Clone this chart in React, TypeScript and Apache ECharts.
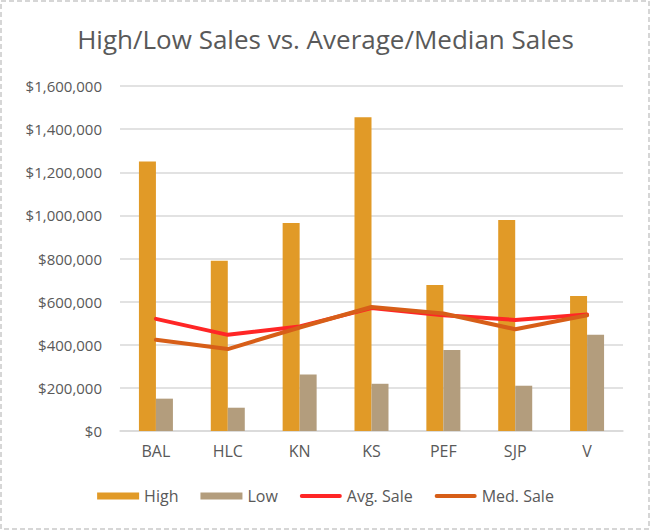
import * as echarts from "echarts";
import { useEffect, useRef } from "react";

const categories = ["BAL", "HLC", "KN", "KS", "PEF", "SJP", "V"];
const highSales = [1250000, 790000, 965000, 1455000, 677000, 978000, 626000];
const lowSales = [150000, 108000, 262000, 219000, 376000, 210000, 446000];
const avgSales = [520000, 446000, 485000, 570000, 537000, 515000, 540000];
const medSales = [423000, 380000, 480000, 575000, 545000, 472000, 537000];

const textColor = "#595959";
const gridColor = "#D9D9D9";
const font = "Open Sans";

// thin rounded bar used as legend icon for the two lines
const lineIcon = "path://M2,0 L42,0 A2,2 0 0 1 42,4 L2,4 A2,2 0 0 1 2,0 Z";

const money = (v: number) => "$" + v.toLocaleString("en-US");

function getOption() {
  return {
    animation: false,
    title: {
      text: "High/Low Sales vs. Average/Median Sales",
      left: "center",
      top: 21,
      textStyle: {
        color: textColor,
        fontFamily: font,
        fontSize: 26,
        fontWeight: "normal" as const,
      },
    },
    legend: {
      bottom: 22,
      left: "center",
      itemWidth: 42,
      itemHeight: 7,
      itemGap: 22,
      textStyle: { color: textColor, fontFamily: font, fontSize: 16 },
      data: [
        { name: "High", icon: "rect" },
        { name: "Low", icon: "rect" },
        { name: "Avg. Sale", icon: lineIcon },
        { name: "Med. Sale", icon: lineIcon },
      ],
    },
    grid: { left: 120, right: 28, top: 86, bottom: 100 },
    xAxis: {
      type: "category" as const,
      data: categories,
      axisLine: { lineStyle: { color: gridColor, width: 1.5 } },
      axisTick: { show: false },
      axisLabel: {
        color: textColor,
        fontFamily: font,
        fontSize: 16,
        margin: 12,
      },
    },
    yAxis: {
      type: "value" as const,
      min: 0,
      max: 1600000,
      interval: 200000,
      axisLine: { show: false },
      axisTick: { show: false },
      splitLine: { lineStyle: { color: gridColor, width: 1.5 } },
      axisLabel: {
        color: textColor,
        fontFamily: font,
        fontSize: 15,
        margin: 18,
        formatter: money,
      },
    },
    graphic: [
      {
        type: "rect",
        shape: { x: 1, y: 1, width: 648, height: 528 },
        style: {
          fill: "none",
          stroke: "#D6D6D6",
          lineWidth: 2,
          lineDash: [5, 3],
        },
        silent: true,
      },
    ],
    series: [
      {
        name: "High",
        type: "bar",
        data: highSales,
        barWidth: 17,
        barGap: "0%",
        itemStyle: { color: "#E19A27" },
      },
      {
        name: "Low",
        type: "bar",
        data: lowSales,
        barWidth: 17,
        itemStyle: { color: "#B39D7D" },
      },
      {
        name: "Avg. Sale",
        type: "line",
        data: avgSales,
        symbol: "none",
        lineStyle: { color: "#FF2626", width: 4, cap: "round" },
        itemStyle: { color: "#FF2626" },
      },
      {
        name: "Med. Sale",
        type: "line",
        data: medSales,
        symbol: "none",
        lineStyle: { color: "#D75E18", width: 4, cap: "round" },
        itemStyle: { color: "#D75E18" },
      },
    ],
  };
}

export default function App() {
  const ref = useRef<HTMLDivElement>(null);

  useEffect(() => {
    document.body.style.margin = "0";
    if (!ref.current) return;
    const chart = echarts.init(ref.current, undefined, { renderer: "svg" });
    chart.setOption(getOption());
    return () => {
      chart.dispose();
    };
  }, []);

  return (
    <div
      ref={ref}
      style={{ width: 651, height: 531, background: "#fff" }}
    />
  );
}
